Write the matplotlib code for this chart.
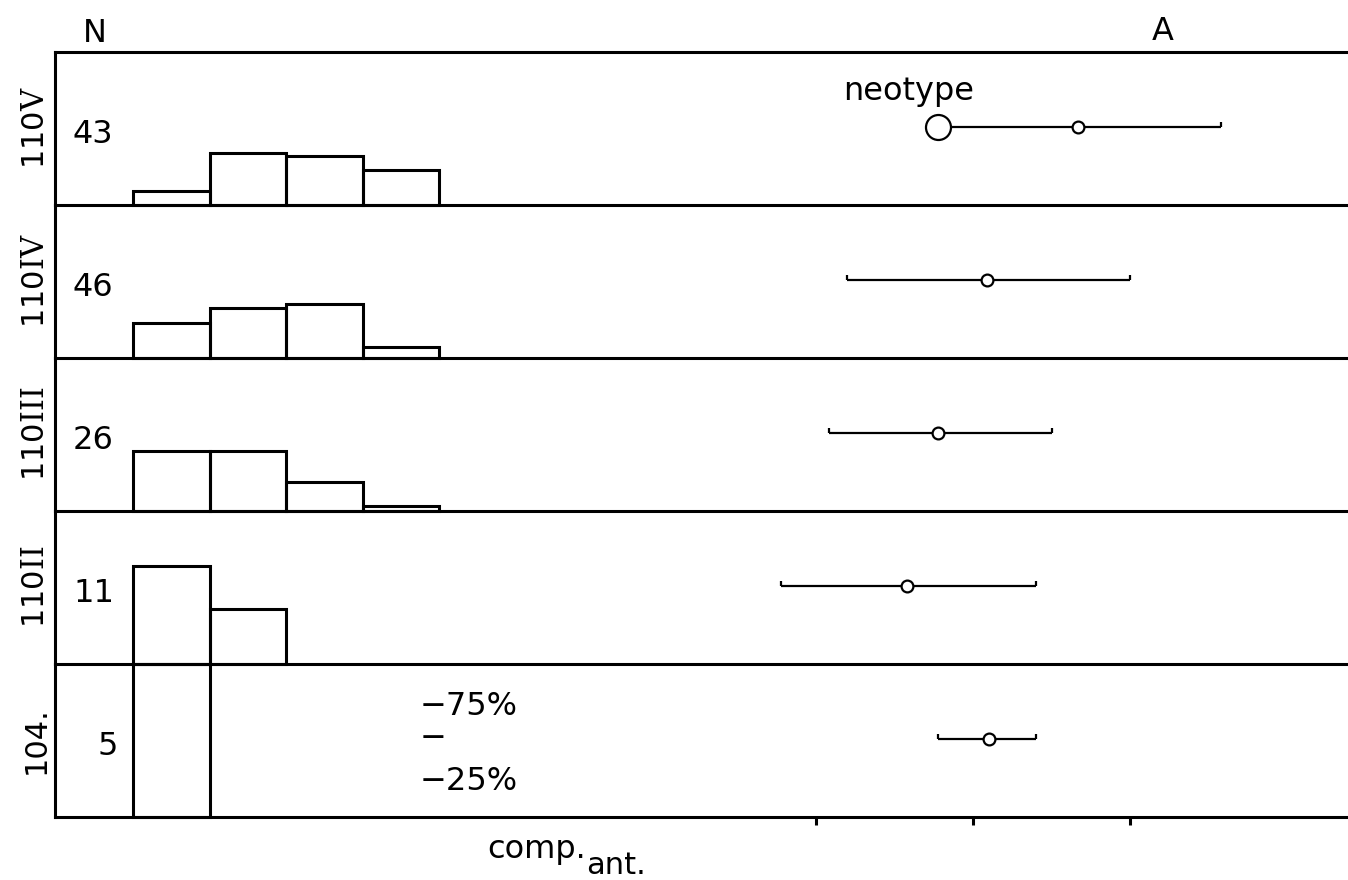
import matplotlib

matplotlib.use("Agg")

import matplotlib.pyplot as plt

# one row per sample, top to bottom
sample_labels = ["110$\\mathrm{V}$", "110$\\mathrm{IV}$", "110$\\mathrm{III}$", "110$\\mathrm{II}$", "104."]
sample_counts = [43, 46, 26, 11, 5]

# class frequencies in percent of each sample (classes left to right)
class_percent = [
    [9, 34, 32, 23],
    [23, 33, 35, 7],
    [39, 39, 19, 3],
    [64, 36],
    [100],
]

# A: lower quartile, mean, upper quartile
range_low = [3.78, 3.20, 3.08, 2.78, 3.78]
range_mean = [4.67, 4.09, 3.78, 3.58, 4.10]
range_high = [5.58, 5.00, 4.50, 4.40, 4.40]
neotype_value = 3.78
a_ticks = [3, 4, 5]

# layout in pixels
W, H = 1348, 880
LEFT, TOP, ROW_H = 55, 52, 153
BIN0_PX, BIN_W_PX = 133, 76.5
A_REF_PX, A_UNIT_PX, A_REF = 816, 157, 3
RANGE_Y = 51
FS = 23
LW = 2.2

plt.rcParams["font.family"] = ["DejaVu Sans"]
plt.rcParams["mathtext.fontset"] = "custom"
plt.rcParams["mathtext.rm"] = "DejaVu Serif"


def px(x, y):
    return x / W, 1 - y / H


fig = plt.figure(figsize=(W / 100, H / 100), dpi=100)

hist_xlim = ((LEFT - BIN0_PX) / BIN_W_PX, (W - BIN0_PX) / BIN_W_PX)
a_xlim = (A_REF + (LEFT - A_REF_PX) / A_UNIT_PX, A_REF + (W - A_REF_PX) / A_UNIT_PX)

n_rows = len(sample_labels)
for i in range(n_rows):
    top = TOP + i * ROW_H
    ax = fig.add_axes([LEFT / W, 1 - (top + ROW_H) / H, 1 - LEFT / W, ROW_H / H])
    ax.patch.set_visible(False)
    ax.set_xlim(*hist_xlim)
    ax.set_ylim(0, 100)
    ax.spines["right"].set_visible(False)
    ax.spines["top"].set_visible(i == 0)
    for side in ["left", "bottom", "top"]:
        ax.spines[side].set_linewidth(LW)
    ax.set_xticks([])
    ax.set_yticks([])

    pct = class_percent[i]
    ax.bar(range(len(pct)), pct, width=1, align="edge", fill=False,
           edgecolor="black", linewidth=LW, clip_on=False)

    # quartile range with mean
    ax2 = ax.twiny()
    ax2.set_xlim(*a_xlim)
    for side in ax2.spines.values():
        side.set_visible(False)
    ax2.set_xticks([])
    lo, mu, hi = range_low[i], range_mean[i], range_high[i]
    ax2.hlines(RANGE_Y, lo, hi, color="black", linewidth=1.6)
    ax2.vlines([lo, hi], RANGE_Y, RANGE_Y + 3, color="black", linewidth=1.6)
    ax2.plot([mu], [RANGE_Y], "o", markersize=8.5, markerfacecolor="white",
             markeredgecolor="black", markeredgewidth=1.6)
    if i == 0:
        ax2.plot([neotype_value], [RANGE_Y], "o", markersize=18,
                 markerfacecolor="white", markeredgecolor="black",
                 markeredgewidth=1.6)
        fig.text(*px(843, 100), "neotype", fontsize=FS, ha="left", va="baseline")

    if i == n_rows - 1:
        ax2.xaxis.set_ticks_position("bottom")
        ax2.set_xticks(a_ticks)
        ax2.set_xticklabels([])
        ax2.tick_params(axis="x", direction="out", length=6, width=LW)

    # sample name and N
    fig.text(*px(36, top + 76), sample_labels[i], rotation=90, fontsize=FS - 1,
             ha="center", va="center")
    fig.text(*px(73 if sample_counts[i] > 9 else 97, top + 91), str(sample_counts[i]),
             fontsize=FS, ha="left", va="baseline")

fig.text(*px(95, 42), "N", fontsize=FS, ha="center", va="baseline")
fig.text(*px(1163, 40), "A", fontsize=FS, ha="center", va="baseline")

# quartile key
fig.text(*px(420, 715), "\u221275%", fontsize=FS, ha="left", va="baseline")
fig.text(*px(420, 738), "\u2212", fontsize=FS, ha="left", va="center")
fig.text(*px(420, 790), "\u221225%", fontsize=FS, ha="left", va="baseline")

fig.text(*px(487, 858), "comp.", fontsize=FS, ha="left", va="baseline")
fig.text(*px(586, 874), "ant.", fontsize=FS - 1, ha="left", va="baseline")

fig.savefig("out.png", dpi=100, facecolor="white")
